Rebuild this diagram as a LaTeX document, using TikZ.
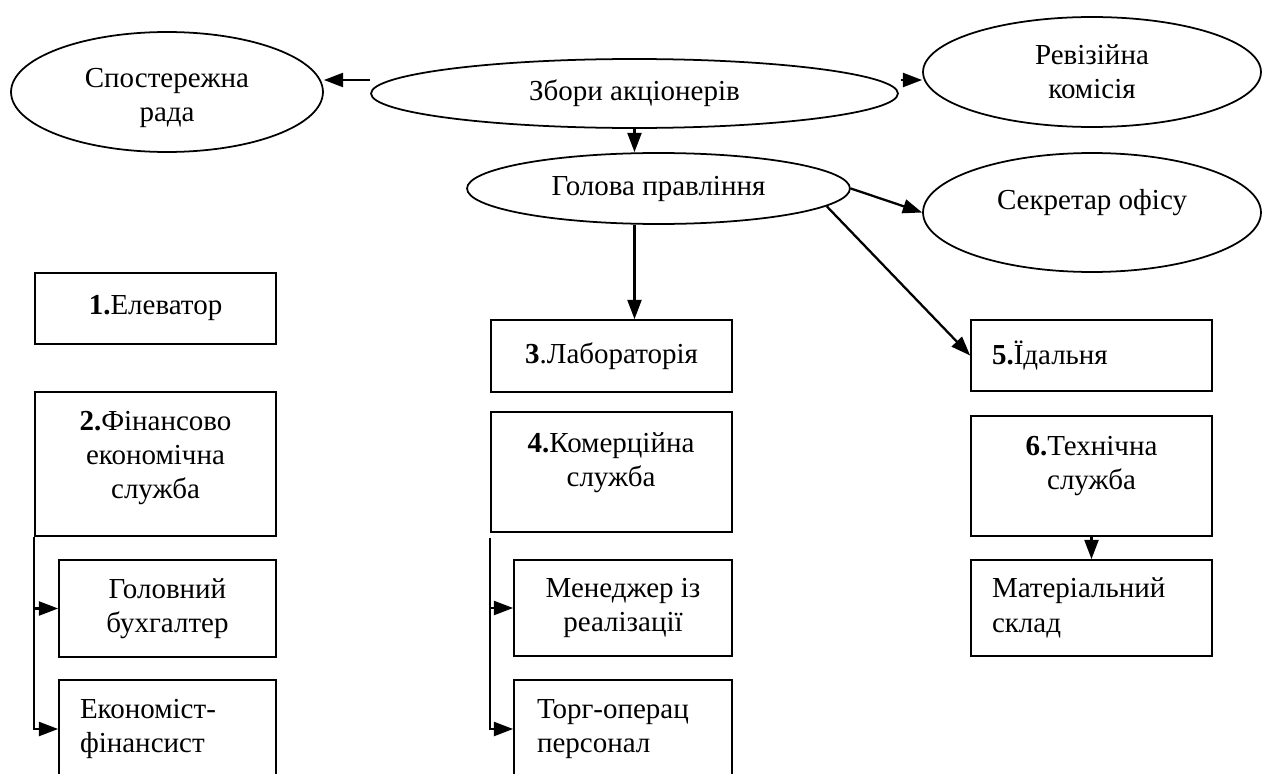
\documentclass[tikz,border=0pt]{standalone}
\usepackage{fontspec}
\setmainfont{Liberation Serif}
\newfontfamily\orgfont{Liberation Serif}
\usetikzlibrary{shapes.geometric,arrows.meta,calc}

\begin{document}
\begin{tikzpicture}[x=0.02cm, y=-0.02cm,
                        every node/.style={font=\orgfont\fontsize{16.5}{19.5}\selectfont},
                        oval/.style={draw, ellipse, line width=1pt, inner sep=0pt, align=center},
                        box/.style={draw, rectangle, line width=1pt, inner sep=0pt, minimum width=4.82cm, align=center},
                        lbox/.style={box, align=left, inner xsep=0.42cm, text width=3.98cm},
                        txt/.style={align=center},
                        arr/.style={line width=1.3pt, -{Triangle[length=11pt, width=8pt]}}]
                        \useasboundingbox (0,0) rectangle (1269,774);
                        \node[oval, minimum width=6.24cm, minimum height=2.4cm] (sposter) at (167,92) {};
                        \node[txt] (sposter-t) at (167,98) {Спостережна\\рада};
                        \node[oval, minimum width=10.54cm, minimum height=1.38cm] (zbory) at (634.5,93.5) {Збори акціонерів};
                        \node[oval, minimum width=6.76cm, minimum height=2.2cm] (revis) at (1092,72) {Ревізійна\\комісія};
                        \node[oval, minimum width=7.66cm, minimum height=1.42cm] (golova) at (658.5,188.5) {Голова правління};
                        \node[oval, minimum width=6.76cm, minimum height=2.38cm, text depth=15pt] (sekr) at (1092,212.5) {Секретар офісу};
                        \node[box, minimum height=1.42cm] (elev) at (155.5,308.5) {\textbf{1.}Елеватор};
                        \node[box, minimum height=2.88cm] (fin) at (155.5,464) {};
                        \node[txt] (fin-t) at (155.5,458) {\textbf{2.}Фінансово\\економічна\\служба};
                        \node[box, minimum width=4.34cm, minimum height=1.94cm] (buh) at (167.5,608.5) {Головний\\бухгалтер};
                        \node[lbox, minimum width=4.34cm, text width=3.5cm, minimum height=1.96cm] (ekon) at (167.5,729) {Економіст-\\фінансист};
                        \node[box, minimum height=1.44cm] (lab) at (611.5,356) {\textbf{3}.Лабораторія};
                        \node[box, minimum height=2.4cm] (kom) at (611.5,472) {};
                        \node[txt] (kom-t) at (611,463) {\textbf{4.}Комерційна\\служба};
                        \node[box, minimum width=4.36cm, minimum height=1.92cm] (men) at (623,608) {Менеджер із\\реалізації};
                        \node[lbox, minimum width=4.36cm, inner xsep=0.46cm, text width=3.44cm, minimum height=1.96cm] (torg) at (623,729) {Торг-операц\\персонал};
                        \node[lbox, minimum height=1.42cm] (yidal) at (1091.5,355.5) {\textbf{5.}Їдальня};
                        \node[box, minimum height=2.4cm] (tech) at (1091.5,476) {};
                        \node[txt] (tech-t) at (1091.5,466) {\textbf{6.}Технічна\\служба};
                        \node[lbox, minimum height=1.92cm] (mat) at (1091.5,608) {Матеріальний\\склад};
                        \draw[arr] ($(zbory.west)+(0,-13.5)$) -- ($(sposter.east)+(0,-12)$);
                        \draw[arr] ($(zbory.east)+(2,-13.5)$) -- ($(revis.west)+(0,8)$);
                        \draw[arr] (zbory.south) -- (zbory.south |- golova.north);
                        \draw[arr] (golova.south -| zbory.south) -- (lab.north -| zbory.south);
                        \draw[arr] (golova.east) -- (sekr.west);
                        \draw[arr] (golova.-6) -- (yidal.west);
                        \draw[arr] (tech.south) -- (mat.north);
                        \draw[arr] (fin.south west) |- (buh.west);
                        \draw[arr] (fin.south west) |- (ekon.west);
                        \draw[arr] ($(kom.south west)+(0,5)$) |- (men.west);
                        \draw[arr] ($(kom.south west)+(0,5)$) |- (torg.west);
                    \end{tikzpicture}
\end{document}
